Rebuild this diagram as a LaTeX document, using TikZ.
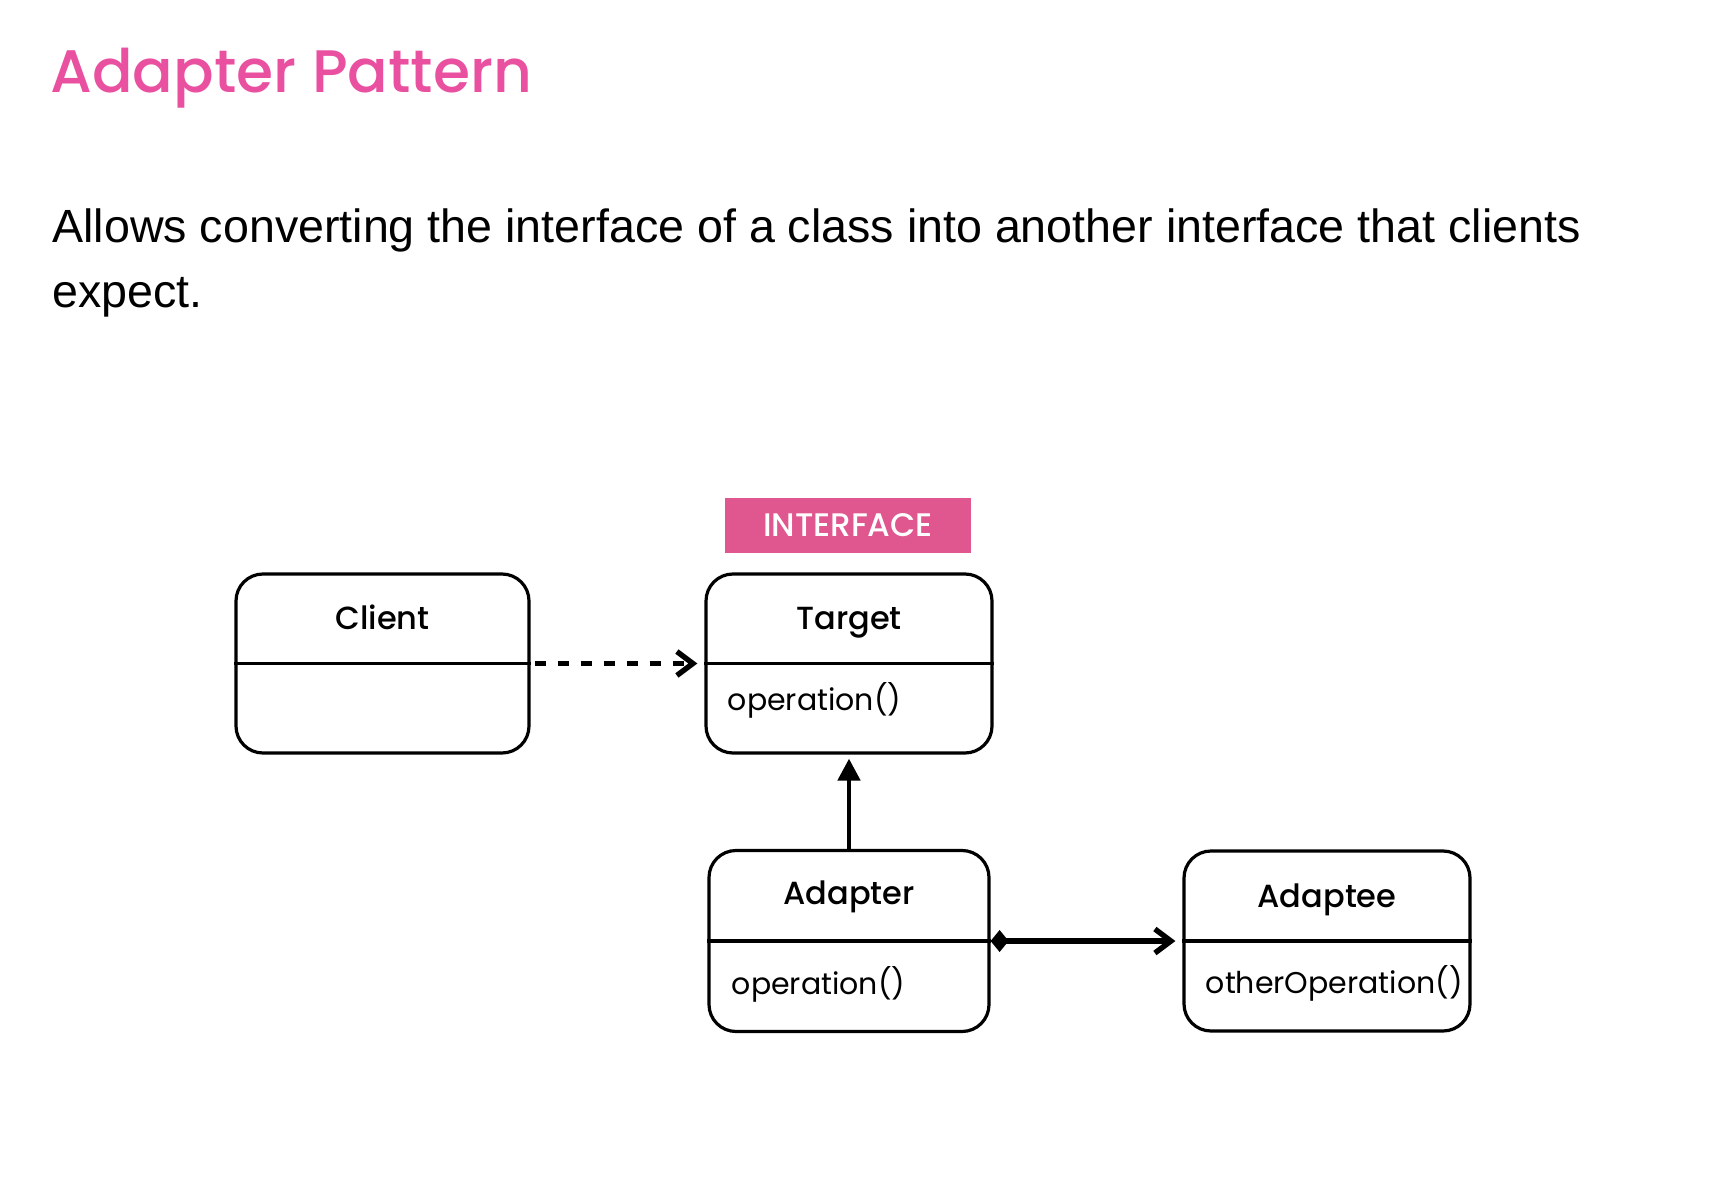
\documentclass[tikz,border=0pt]{standalone}
\usepackage{fontspec}
\setmainfont{Liberation Sans}
\newfontfamily\popreg{Poppins}
\newfontfamily\popmed{Poppins Medium}
\usetikzlibrary{arrows.meta, positioning, calc}
\definecolor{adapterpink}{RGB}{233,80,160}
\definecolor{ifacepink}{RGB}{224,86,142}

\begin{document}
\begin{tikzpicture}[x=0.5pt, y=-0.5pt,
  cls/.style={rectangle, rounded corners=13.5pt, draw=black, line width=1.6pt, inner sep=0pt},
  clsname/.style={anchor=base, inner sep=0pt, font=\popmed\fontsize{16}{20}\selectfont},
  method/.style={anchor=base west, inner sep=0pt, font=\popreg\fontsize{15}{18}\selectfont},
  tag/.style={rectangle, fill=ifacepink, text=white, font=\popmed\fontsize{16.3}{18}\selectfont,
              minimum width=123pt, minimum height=27.5pt},
  dep/.style={-{Straight Barb[length=8pt, width=12pt]}, line width=2.7pt, dash pattern=on 5.5pt off 6pt},
  realize/.style={-{Triangle[length=11pt, width=11pt]}, line width=2.4pt},
  compose/.style={{Diamond[length=9pt, width=11pt]}-{Straight Barb[length=8pt, width=12pt]}, line width=2.7pt}
]
\useasboundingbox (0,0) rectangle (1732,1202);

\node[anchor=base west, inner sep=0pt, text=adapterpink, font=\popmed\fontsize{30}{36}\selectfont]
  (title) at (50,93) {Adapter Pattern};
\node[anchor=north west, inner sep=0pt, align=left, font=\fontsize{23.3}{32.5}\selectfont]
  (desc) at (52,208) {Allows converting the interface of a class into another interface that clients\\expect.};

\node[cls, minimum width=146.5pt, minimum height=89.5pt] (client) at (382.5,663.5) {};
\node[cls, minimum width=143pt, minimum height=89.5pt] (target) at (849,663.5) {};
\node[cls, minimum width=140pt, minimum height=90.5pt] (adapter) at (849,941) {};
\node[cls, minimum width=143pt, minimum height=90pt] (adaptee) at (1327,941) {};
\node[tag] (iface) at (848,525.5) {INTERFACE};

\foreach \c in {client,target,adapter,adaptee}
  \draw[line width=1.6pt] (\c.west) -- (\c.east);

\node[clsname] (clientname) at ($(client.north)+(0,57)$) {Client};
\node[clsname] (targetname) at ($(target.north)+(0,57)$) {Target};
\node[clsname] (adaptername) at ($(adapter.north)+(0,56)$) {Adapter};
\node[clsname] (adapteename) at ($(adaptee.north)+(0,58)$) {Adaptee};

\node[method] (targetop) at ($(target.west)+(23,47)$) {operation()};
\node[method] (adapterop) at ($(adapter.west)+(24,53)$) {operation()};
\node[method] (adapteeop) at ($(adaptee.west)+(23,52)$) {otherOperation()};

\draw[dep, shorten <=2pt, shorten >=3.5pt] (client.east) -- (target.west);
\draw[realize, shorten >=2pt] (adapter.north) -- (target.south);
\draw[compose, shorten >=3.5pt] (adapter.east) -- (adaptee.west);
\end{tikzpicture}
\end{document}
